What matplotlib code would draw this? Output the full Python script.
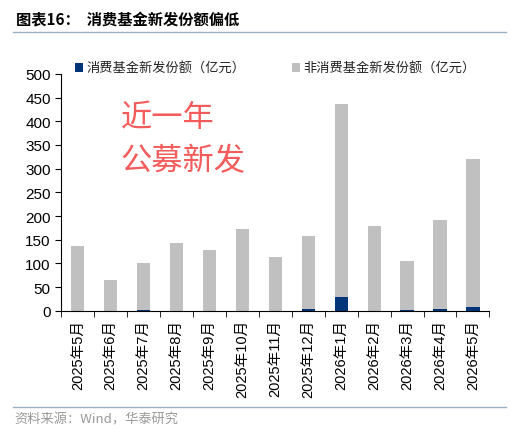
import numpy as np
import matplotlib
matplotlib.use("Agg")
import matplotlib.pyplot as plt
from matplotlib.lines import Line2D

plt.rcParams['font.family'] = ['Liberation Sans', 'Noto Sans CJK SC']

months = ['2025年5月', '2025年6月', '2025年7月', '2025年8月', '2025年9月', '2025年10月',
          '2025年11月', '2025年12月', '2026年1月', '2026年2月', '2026年3月', '2026年4月',
          '2026年5月']
consumer = [0.3, 0.3, 1.0, 0.3, 0.3, 0.3, 0.3, 3.0, 30.0, 0.5, 1.5, 3.0, 7.5]
total = [137, 66, 101, 143, 129, 173, 114, 157, 436, 179, 105, 191, 320]
non_consumer = [t - c for t, c in zip(total, consumer)]

fig = plt.figure(figsize=(5.19, 4.35), dpi=100)
ax = fig.add_axes([0.118, 0.283, 0.825, 0.545])

x = np.arange(len(months))
w = 0.4
ax.bar(x, consumer, w, color='#003478', label='消费基金新发份额（亿元）')
ax.bar(x, non_consumer, w, bottom=consumer, color='#c0c0c0', label='非消费基金新发份额（亿元）')

ax.set_xlim(-0.5, len(months) - 0.5)
ax.set_ylim(0, 500)
ax.set_yticks(range(0, 501, 50))
ax.set_xticks(x)
ax.set_xticklabels(months, rotation=90, fontsize=10.5)
ax.tick_params(axis='x', length=0, pad=6)
ax.set_xticks(np.arange(-0.5, len(months)), minor=True)
ax.tick_params(axis='x', which='minor', length=4, direction='out')
ax.tick_params(axis='y', labelsize=11, length=4, direction='out')
for s in ['top', 'right']:
    ax.spines[s].set_visible(False)

ax.legend(loc='upper center', bbox_to_anchor=(0.5, 1.1), ncol=2, frameon=False,
          fontsize=9.5, handlelength=0.6, handleheight=0.6, columnspacing=3.5,
          handletextpad=0.3, labelcolor='#222222')

ax.text(0.138, 0.885, '近一年\n公募新发', transform=ax.transAxes, color='#f45b5b',
        fontsize=22.5, va='top', ha='left', linespacing=1.45, family='Noto Sans CJK SC')

fig.text(0.03, 0.953, '图表16：  消费基金新发份额偏低', fontsize=11, fontweight='bold',
         family='Noto Sans CJK SC', va='center')
fig.add_artist(Line2D([0.025, 0.975], [0.925, 0.925], color='#9bb0c4', lw=1))
fig.add_artist(Line2D([0.025, 0.975], [0.062, 0.062], color='#9bb0c4', lw=1))
fig.text(0.028, 0.035, '资料来源：Wind，华泰研究', fontsize=9.5, color='#999999',
         va='center', family=['Noto Sans CJK SC'])

fig.savefig('out.png', dpi=100)
